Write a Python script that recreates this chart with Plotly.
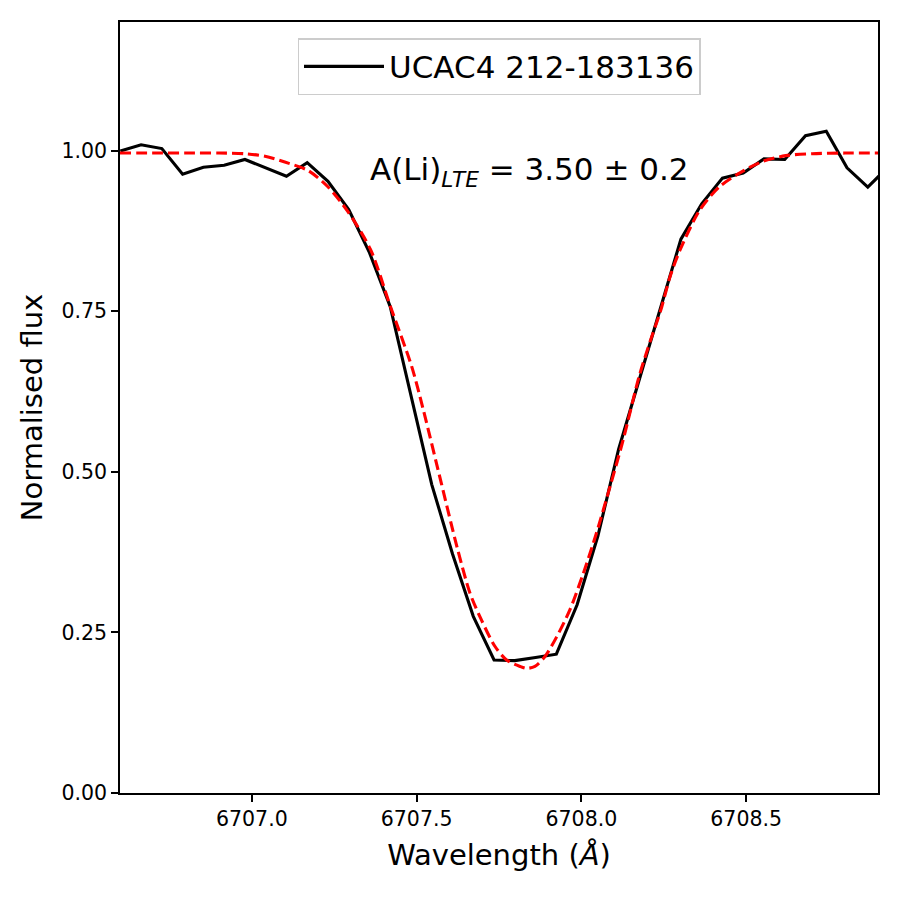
import plotly.graph_objects as go

# Observed spectrum (black)
obs_wave = [6706.601, 6706.664, 6706.727, 6706.790, 6706.853, 6706.916, 6706.979, 6707.042,
            6707.105, 6707.168, 6707.231, 6707.294, 6707.357, 6707.420, 6707.483, 6707.546,
            6707.609, 6707.672, 6707.735, 6707.798, 6707.861, 6707.924, 6707.987, 6708.050,
            6708.113, 6708.176, 6708.239, 6708.302, 6708.365, 6708.428, 6708.491, 6708.554,
            6708.617, 6708.680, 6708.743, 6708.806, 6708.869, 6708.932]
obs_flux = [0.999, 1.009, 1.003, 0.963, 0.974, 0.977, 0.986, 0.973,
            0.960, 0.981, 0.952, 0.908, 0.841, 0.757, 0.620, 0.480,
            0.372, 0.275, 0.207, 0.206, 0.211, 0.216, 0.293, 0.400,
            0.535, 0.643, 0.752, 0.862, 0.917, 0.957, 0.965, 0.987,
            0.986, 1.023, 1.030, 0.973, 0.943, 0.975]

# Synthetic fit (red dashed)
syn_wave = [6706.60, 6706.70, 6706.80, 6706.90, 6706.98, 6707.04, 6707.10, 6707.17,
            6707.23, 6707.29, 6707.36, 6707.42, 6707.485, 6707.52, 6707.576, 6707.622,
            6707.662, 6707.697, 6707.738, 6707.773, 6707.814, 6707.834, 6707.859, 6707.889,
            6707.925, 6707.965, 6708.006, 6708.046, 6708.087, 6708.127, 6708.175, 6708.21,
            6708.24, 6708.27, 6708.30, 6708.36, 6708.42, 6708.49, 6708.55, 6708.62,
            6708.70, 6708.80, 6708.90]
syn_flux = [0.996, 0.996, 0.996, 0.996, 0.995, 0.991, 0.982, 0.969,
            0.944, 0.906, 0.846, 0.758, 0.664, 0.597, 0.480, 0.384,
            0.311, 0.269, 0.228, 0.207, 0.197, 0.194, 0.197, 0.212,
            0.243, 0.285, 0.342, 0.405, 0.477, 0.550, 0.648, 0.705,
            0.750, 0.805, 0.846, 0.908, 0.944, 0.968, 0.983, 0.992,
            0.995, 0.996, 0.996]

star_name = "UCAC4 212-183136"
label_text = "A(Li)<sub><i>LTE</i></sub> = 3.50 ± 0.2"
x_ticks = [6707.0, 6707.5, 6708.0, 6708.5]
y_ticks = [0.0, 0.25, 0.5, 0.75, 1.0]

FONT = "DejaVu Sans"

fig = go.Figure()
fig.add_trace(go.Scatter(x=obs_wave, y=obs_flux, mode="lines", name=star_name,
                         line=dict(color="black", width=3.1)))
fig.add_trace(go.Scatter(x=syn_wave, y=syn_flux, mode="lines", showlegend=False,
                         line=dict(color="red", width=3.1, dash="11px,5px", shape="spline", smoothing=0.8)))

fig.add_annotation(x=6707.352, y=0.967, xref="x", yref="y", text=label_text,
                   showarrow=False, xanchor="left", yanchor="middle",
                   font=dict(family=FONT, size=31, color="black"))

axis_common = dict(showline=True, mirror=True, linecolor="black", linewidth=1.7,
                   ticks="outside", ticklen=7, tickwidth=1.7, tickcolor="black",
                   showgrid=False, zeroline=False,
                   tickfont=dict(family=FONT, size=20.5, color="black"))

fig.update_layout(
    width=900, height=900,
    margin=dict(l=112, r=30, t=14, b=115),
    paper_bgcolor="white", plot_bgcolor="white",
    font=dict(family=FONT, color="black"),
    xaxis=dict(range=[6706.6, 6708.9], tickvals=x_ticks, tickformat=".1f",
               title=dict(text="Wavelength (<i>Å</i>)", font=dict(family=FONT, size=29), standoff=14),
               **axis_common),
    yaxis=dict(range=[0, 1.2], tickvals=y_ticks, tickformat=".2f",
               title=dict(text="Normalised flux", font=dict(family=FONT, size=29), standoff=10),
               **axis_common),
    legend=dict(x=0.5, xanchor="center", y=0.979, yanchor="top",
                bordercolor="#cccccc", borderwidth=1.5, bgcolor="rgba(255,255,255,0.8)",
                itemwidth=80,
                font=dict(family=FONT, size=31, color="black")),
)

fig.write_html("out.html")
